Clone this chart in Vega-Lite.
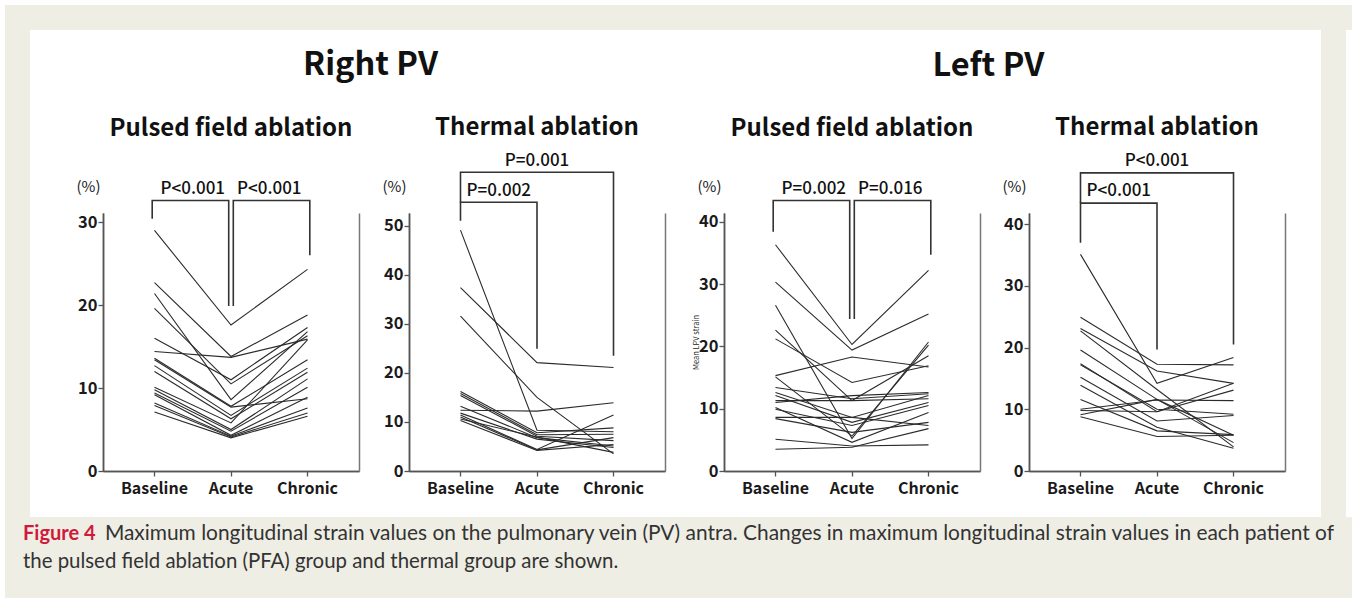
{
 "$schema": "https://vega.github.io/schema/vega-lite/v6.json",
 "background": "white",
 "padding": {"left": 5, "top": 5, "right": 0, "bottom": 0},
 "config": {
  "font": "Noto Sans CJK JP",
  "view": {"stroke": null},
  "axis": {"grid": false, "domainColor": "#555", "domainWidth": 1.5, "tickColor": "#555", "tickWidth": 1.3, "labelColor": "#1a1a1a", "labelFont": "Noto Sans CJK JP", "labelFontWeight": "bold", "labelFontSize": 16.5, "titleFont": "Noto Sans CJK JP", "titleColor": "#1a1a1a"},
  "title": {"font": "Noto Sans CJK JP", "fontWeight": "bold", "color": "#111"},
  "text": {"font": "Noto Sans CJK JP"}
 },
 "datasets": {
  "strain": [
   {"panel":"R-PFA","patient":1,"time":"Baseline","strain":29.0},{"panel":"R-PFA","patient":1,"time":"Acute","strain":17.6},{"panel":"R-PFA","patient":1,"time":"Chronic","strain":24.3},
   {"panel":"R-PFA","patient":2,"time":"Baseline","strain":22.7},{"panel":"R-PFA","patient":2,"time":"Acute","strain":13.8},{"panel":"R-PFA","patient":2,"time":"Chronic","strain":18.8},
   {"panel":"R-PFA","patient":3,"time":"Baseline","strain":14.4},{"panel":"R-PFA","patient":3,"time":"Acute","strain":13.7},{"panel":"R-PFA","patient":3,"time":"Chronic","strain":15.9},
   {"panel":"R-PFA","patient":4,"time":"Baseline","strain":21.4},{"panel":"R-PFA","patient":4,"time":"Acute","strain":8.6},{"panel":"R-PFA","patient":4,"time":"Chronic","strain":16.8},
   {"panel":"R-PFA","patient":5,"time":"Baseline","strain":19.6},{"panel":"R-PFA","patient":5,"time":"Acute","strain":10.5},{"panel":"R-PFA","patient":5,"time":"Chronic","strain":16.3},
   {"panel":"R-PFA","patient":6,"time":"Baseline","strain":16.0},{"panel":"R-PFA","patient":6,"time":"Acute","strain":11.0},{"panel":"R-PFA","patient":6,"time":"Chronic","strain":17.3},
   {"panel":"R-PFA","patient":7,"time":"Baseline","strain":13.6},{"panel":"R-PFA","patient":7,"time":"Acute","strain":7.8},{"panel":"R-PFA","patient":7,"time":"Chronic","strain":13.4},
   {"panel":"R-PFA","patient":8,"time":"Baseline","strain":13.4},{"panel":"R-PFA","patient":8,"time":"Acute","strain":7.7},{"panel":"R-PFA","patient":8,"time":"Chronic","strain":8.7},
   {"panel":"R-PFA","patient":9,"time":"Baseline","strain":12.7},{"panel":"R-PFA","patient":9,"time":"Acute","strain":6.7},{"panel":"R-PFA","patient":9,"time":"Chronic","strain":12.4},
   {"panel":"R-PFA","patient":10,"time":"Baseline","strain":12.0},{"panel":"R-PFA","patient":10,"time":"Acute","strain":6.3},{"panel":"R-PFA","patient":10,"time":"Chronic","strain":11.9},
   {"panel":"R-PFA","patient":11,"time":"Baseline","strain":10.1},{"panel":"R-PFA","patient":11,"time":"Acute","strain":5.8},{"panel":"R-PFA","patient":11,"time":"Chronic","strain":15.8},
   {"panel":"R-PFA","patient":12,"time":"Baseline","strain":9.8},{"panel":"R-PFA","patient":12,"time":"Acute","strain":5.0},{"panel":"R-PFA","patient":12,"time":"Chronic","strain":11.1},
   {"panel":"R-PFA","patient":13,"time":"Baseline","strain":9.4},{"panel":"R-PFA","patient":13,"time":"Acute","strain":4.8},{"panel":"R-PFA","patient":13,"time":"Chronic","strain":10.1},
   {"panel":"R-PFA","patient":14,"time":"Baseline","strain":9.2},{"panel":"R-PFA","patient":14,"time":"Acute","strain":4.3},{"panel":"R-PFA","patient":14,"time":"Chronic","strain":8.9},
   {"panel":"R-PFA","patient":15,"time":"Baseline","strain":8.2},{"panel":"R-PFA","patient":15,"time":"Acute","strain":4.2},{"panel":"R-PFA","patient":15,"time":"Chronic","strain":7.6},
   {"panel":"R-PFA","patient":16,"time":"Baseline","strain":7.9},{"panel":"R-PFA","patient":16,"time":"Acute","strain":4.1},{"panel":"R-PFA","patient":16,"time":"Chronic","strain":7.0},
   {"panel":"R-PFA","patient":17,"time":"Baseline","strain":7.1},{"panel":"R-PFA","patient":17,"time":"Acute","strain":4.0},{"panel":"R-PFA","patient":17,"time":"Chronic","strain":6.6},

   {"panel":"R-TH","patient":1,"time":"Baseline","strain":49.1},{"panel":"R-TH","patient":1,"time":"Acute","strain":8.3},{"panel":"R-TH","patient":1,"time":"Chronic","strain":8.0},
   {"panel":"R-TH","patient":2,"time":"Baseline","strain":37.4},{"panel":"R-TH","patient":2,"time":"Acute","strain":22.1},{"panel":"R-TH","patient":2,"time":"Chronic","strain":21.1},
   {"panel":"R-TH","patient":3,"time":"Baseline","strain":31.6},{"panel":"R-TH","patient":3,"time":"Acute","strain":15.0},{"panel":"R-TH","patient":3,"time":"Chronic","strain":3.5},
   {"panel":"R-TH","patient":4,"time":"Baseline","strain":16.2},{"panel":"R-TH","patient":4,"time":"Acute","strain":7.8},{"panel":"R-TH","patient":4,"time":"Chronic","strain":8.8},
   {"panel":"R-TH","patient":5,"time":"Baseline","strain":15.8},{"panel":"R-TH","patient":5,"time":"Acute","strain":7.4},{"panel":"R-TH","patient":5,"time":"Chronic","strain":7.5},
   {"panel":"R-TH","patient":6,"time":"Baseline","strain":15.4},{"panel":"R-TH","patient":6,"time":"Acute","strain":7.1},{"panel":"R-TH","patient":6,"time":"Chronic","strain":6.2},
   {"panel":"R-TH","patient":7,"time":"Baseline","strain":12.4},{"panel":"R-TH","patient":7,"time":"Acute","strain":12.2},{"panel":"R-TH","patient":7,"time":"Chronic","strain":13.9},
   {"panel":"R-TH","patient":8,"time":"Baseline","strain":13.2},{"panel":"R-TH","patient":8,"time":"Acute","strain":6.8},{"panel":"R-TH","patient":8,"time":"Chronic","strain":5.1},
   {"panel":"R-TH","patient":9,"time":"Baseline","strain":11.8},{"panel":"R-TH","patient":9,"time":"Acute","strain":6.5},{"panel":"R-TH","patient":9,"time":"Chronic","strain":4.8},
   {"panel":"R-TH","patient":10,"time":"Baseline","strain":11.4},{"panel":"R-TH","patient":10,"time":"Acute","strain":4.4},{"panel":"R-TH","patient":10,"time":"Chronic","strain":11.4},
   {"panel":"R-TH","patient":11,"time":"Baseline","strain":11.0},{"panel":"R-TH","patient":11,"time":"Acute","strain":4.3},{"panel":"R-TH","patient":11,"time":"Chronic","strain":6.8},
   {"panel":"R-TH","patient":12,"time":"Baseline","strain":10.6},{"panel":"R-TH","patient":12,"time":"Acute","strain":6.9},{"panel":"R-TH","patient":12,"time":"Chronic","strain":3.8},
   {"panel":"R-TH","patient":13,"time":"Baseline","strain":10.3},{"panel":"R-TH","patient":13,"time":"Acute","strain":4.2},{"panel":"R-TH","patient":13,"time":"Chronic","strain":5.4},

   {"panel":"L-PFA","patient":1,"time":"Baseline","strain":36.3},{"panel":"L-PFA","patient":1,"time":"Acute","strain":20.3},{"panel":"L-PFA","patient":1,"time":"Chronic","strain":32.2},
   {"panel":"L-PFA","patient":2,"time":"Baseline","strain":30.3},{"panel":"L-PFA","patient":2,"time":"Acute","strain":19.4},{"panel":"L-PFA","patient":2,"time":"Chronic","strain":25.2},
   {"panel":"L-PFA","patient":3,"time":"Baseline","strain":26.6},{"panel":"L-PFA","patient":3,"time":"Acute","strain":5.2},{"panel":"L-PFA","patient":3,"time":"Chronic","strain":20.7},
   {"panel":"L-PFA","patient":4,"time":"Baseline","strain":22.6},{"panel":"L-PFA","patient":4,"time":"Acute","strain":11.3},{"panel":"L-PFA","patient":4,"time":"Chronic","strain":18.5},
   {"panel":"L-PFA","patient":5,"time":"Baseline","strain":21.2},{"panel":"L-PFA","patient":5,"time":"Acute","strain":14.2},{"panel":"L-PFA","patient":5,"time":"Chronic","strain":16.9},
   {"panel":"L-PFA","patient":6,"time":"Baseline","strain":15.3},{"panel":"L-PFA","patient":6,"time":"Acute","strain":18.3},{"panel":"L-PFA","patient":6,"time":"Chronic","strain":16.7},
   {"panel":"L-PFA","patient":7,"time":"Baseline","strain":15.1},{"panel":"L-PFA","patient":7,"time":"Acute","strain":5.6},{"panel":"L-PFA","patient":7,"time":"Chronic","strain":20.2},
   {"panel":"L-PFA","patient":8,"time":"Baseline","strain":13.4},{"panel":"L-PFA","patient":8,"time":"Acute","strain":11.6},{"panel":"L-PFA","patient":8,"time":"Chronic","strain":12.4},
   {"panel":"L-PFA","patient":9,"time":"Baseline","strain":12.6},{"panel":"L-PFA","patient":9,"time":"Acute","strain":8.6},{"panel":"L-PFA","patient":9,"time":"Chronic","strain":12.1},
   {"panel":"L-PFA","patient":10,"time":"Baseline","strain":12.1},{"panel":"L-PFA","patient":10,"time":"Acute","strain":7.8},{"panel":"L-PFA","patient":10,"time":"Chronic","strain":11.0},
   {"panel":"L-PFA","patient":11,"time":"Baseline","strain":11.3},{"panel":"L-PFA","patient":11,"time":"Acute","strain":11.3},{"panel":"L-PFA","patient":11,"time":"Chronic","strain":11.6},
   {"panel":"L-PFA","patient":12,"time":"Baseline","strain":11.0},{"panel":"L-PFA","patient":12,"time":"Acute","strain":12.1},{"panel":"L-PFA","patient":12,"time":"Chronic","strain":12.6},
   {"panel":"L-PFA","patient":13,"time":"Baseline","strain":10.2},{"panel":"L-PFA","patient":13,"time":"Acute","strain":4.6},{"panel":"L-PFA","patient":13,"time":"Chronic","strain":9.4},
   {"panel":"L-PFA","patient":14,"time":"Baseline","strain":9.9},{"panel":"L-PFA","patient":14,"time":"Acute","strain":7.3},{"panel":"L-PFA","patient":14,"time":"Chronic","strain":10.5},
   {"panel":"L-PFA","patient":15,"time":"Baseline","strain":8.6},{"panel":"L-PFA","patient":15,"time":"Acute","strain":8.6},{"panel":"L-PFA","patient":15,"time":"Chronic","strain":7.3},
   {"panel":"L-PFA","patient":16,"time":"Baseline","strain":8.4},{"panel":"L-PFA","patient":16,"time":"Acute","strain":6.2},{"panel":"L-PFA","patient":16,"time":"Chronic","strain":7.8},
   {"panel":"L-PFA","patient":17,"time":"Baseline","strain":5.1},{"panel":"L-PFA","patient":17,"time":"Acute","strain":4.0},{"panel":"L-PFA","patient":17,"time":"Chronic","strain":4.2},
   {"panel":"L-PFA","patient":18,"time":"Baseline","strain":3.5},{"panel":"L-PFA","patient":18,"time":"Acute","strain":3.8},{"panel":"L-PFA","patient":18,"time":"Chronic","strain":6.8},

   {"panel":"L-TH","patient":1,"time":"Baseline","strain":35.1},{"panel":"L-TH","patient":1,"time":"Acute","strain":14.2},{"panel":"L-TH","patient":1,"time":"Chronic","strain":18.4},
   {"panel":"L-TH","patient":2,"time":"Baseline","strain":24.9},{"panel":"L-TH","patient":2,"time":"Acute","strain":17.3},{"panel":"L-TH","patient":2,"time":"Chronic","strain":17.2},
   {"panel":"L-TH","patient":3,"time":"Baseline","strain":23.1},{"panel":"L-TH","patient":3,"time":"Acute","strain":16.2},{"panel":"L-TH","patient":3,"time":"Chronic","strain":14.2},
   {"panel":"L-TH","patient":4,"time":"Baseline","strain":22.7},{"panel":"L-TH","patient":4,"time":"Acute","strain":13.2},{"panel":"L-TH","patient":4,"time":"Chronic","strain":3.9},
   {"panel":"L-TH","patient":5,"time":"Baseline","strain":19.6},{"panel":"L-TH","patient":5,"time":"Acute","strain":11.6},{"panel":"L-TH","patient":5,"time":"Chronic","strain":4.6},
   {"panel":"L-TH","patient":6,"time":"Baseline","strain":17.4},{"panel":"L-TH","patient":6,"time":"Acute","strain":9.6},{"panel":"L-TH","patient":6,"time":"Chronic","strain":13.1},
   {"panel":"L-TH","patient":7,"time":"Baseline","strain":17.2},{"panel":"L-TH","patient":7,"time":"Acute","strain":10.0},{"panel":"L-TH","patient":7,"time":"Chronic","strain":9.2},
   {"panel":"L-TH","patient":8,"time":"Baseline","strain":15.2},{"panel":"L-TH","patient":8,"time":"Acute","strain":8.1},{"panel":"L-TH","patient":8,"time":"Chronic","strain":9.0},
   {"panel":"L-TH","patient":9,"time":"Baseline","strain":13.9},{"panel":"L-TH","patient":9,"time":"Acute","strain":7.1},{"panel":"L-TH","patient":9,"time":"Chronic","strain":3.7},
   {"panel":"L-TH","patient":10,"time":"Baseline","strain":11.6},{"panel":"L-TH","patient":10,"time":"Acute","strain":6.5},{"panel":"L-TH","patient":10,"time":"Chronic","strain":5.9},
   {"panel":"L-TH","patient":11,"time":"Baseline","strain":10.0},{"panel":"L-TH","patient":11,"time":"Acute","strain":11.5},{"panel":"L-TH","patient":11,"time":"Chronic","strain":11.4},
   {"panel":"L-TH","patient":12,"time":"Baseline","strain":9.8},{"panel":"L-TH","patient":12,"time":"Acute","strain":9.6},{"panel":"L-TH","patient":12,"time":"Chronic","strain":14.2},
   {"panel":"L-TH","patient":13,"time":"Baseline","strain":9.1},{"panel":"L-TH","patient":13,"time":"Acute","strain":11.6},{"panel":"L-TH","patient":13,"time":"Chronic","strain":5.8},
   {"panel":"L-TH","patient":14,"time":"Baseline","strain":8.8},{"panel":"L-TH","patient":14,"time":"Acute","strain":5.6},{"panel":"L-TH","patient":14,"time":"Chronic","strain":5.8}
  ],
  "brackets": [
   {"panel":"R-PFA","bracket":"A","time":"Baseline","level":30.4},{"panel":"R-PFA","bracket":"A","time":"Baseline","level":32.6},{"panel":"R-PFA","bracket":"A","time":"Acute","level":32.6},{"panel":"R-PFA","bracket":"A","time":"Acute","level":19.9},
   {"panel":"R-PFA","bracket":"B","time":"Acute","level":19.9},{"panel":"R-PFA","bracket":"B","time":"Acute","level":32.6},{"panel":"R-PFA","bracket":"B","time":"Chronic","level":32.6},{"panel":"R-PFA","bracket":"B","time":"Chronic","level":26.0},
   {"panel":"R-TH","bracket":"A","time":"Baseline","level":51.0},{"panel":"R-TH","bracket":"A","time":"Baseline","level":54.8},{"panel":"R-TH","bracket":"A","time":"Acute","level":54.8},{"panel":"R-TH","bracket":"A","time":"Acute","level":24.9},
   {"panel":"R-TH","bracket":"C","time":"Baseline","level":54.8},{"panel":"R-TH","bracket":"C","time":"Baseline","level":60.9},{"panel":"R-TH","bracket":"C","time":"Chronic","level":60.9},{"panel":"R-TH","bracket":"C","time":"Chronic","level":23.5},
   {"panel":"L-PFA","bracket":"A","time":"Baseline","level":38.4},{"panel":"L-PFA","bracket":"A","time":"Baseline","level":43.4},{"panel":"L-PFA","bracket":"A","time":"Acute","level":43.4},{"panel":"L-PFA","bracket":"A","time":"Acute","level":24.4},
   {"panel":"L-PFA","bracket":"B","time":"Acute","level":24.4},{"panel":"L-PFA","bracket":"B","time":"Acute","level":43.4},{"panel":"L-PFA","bracket":"B","time":"Chronic","level":43.4},{"panel":"L-PFA","bracket":"B","time":"Chronic","level":34.7},
   {"panel":"L-TH","bracket":"A","time":"Baseline","level":37.0},{"panel":"L-TH","bracket":"A","time":"Baseline","level":43.4},{"panel":"L-TH","bracket":"A","time":"Acute","level":43.4},{"panel":"L-TH","bracket":"A","time":"Acute","level":19.7},
   {"panel":"L-TH","bracket":"C","time":"Baseline","level":43.4},{"panel":"L-TH","bracket":"C","time":"Baseline","level":48.3},{"panel":"L-TH","bracket":"C","time":"Chronic","level":48.3},{"panel":"L-TH","bracket":"C","time":"Chronic","level":20.5}
  ],
  "pvalues": [
   {"panel":"R-PFA","label":"P<0.001","left":"Baseline","right":"Acute","level":33.4},
   {"panel":"R-PFA","label":"P<0.001","left":"Acute","right":"Chronic","level":33.4},
   {"panel":"R-TH","label":"P=0.002","left":"Baseline","right":"Acute","level":56.1},
   {"panel":"R-TH","label":"P=0.001","left":"Baseline","right":"Chronic","level":62.2},
   {"panel":"L-PFA","label":"P=0.002","left":"Baseline","right":"Acute","level":44.5},
   {"panel":"L-PFA","label":"P=0.016","left":"Acute","right":"Chronic","level":44.5},
   {"panel":"L-TH","label":"P<0.001","left":"Baseline","right":"Acute","level":44.5},
   {"panel":"L-TH","label":"P<0.001","left":"Baseline","right":"Chronic","level":49.4}
  ],
  "caption": [
   {"part":"label","line":"1","text":"Figure 4"},
   {"part":"body1","line":"1","text":"Maximum longitudinal strain values on the pulmonary vein (PV) antra. Changes in maximum longitudinal strain values in each patient of"},
   {"part":"body2","line":"2","text":"the pulsed field ablation (PFA) group and thermal group are shown."}
  ]
 },
 "spacing": 0,
 "vconcat": [
  {"width": 1347, "height": 25, "view": {"fill": "#efeee4", "stroke": null}, "data": {"values": []}, "mark": "point"},
  {
   "spacing": 0,
   "hconcat": [
    {"width": 25, "height": 487, "view": {"fill": "#efeee4", "stroke": null}, "data": {"values": []}, "mark": "point"},
    {"width": 46, "height": 10, "data": {"values": []}, "mark": "point"},
    {
     "spacing": 0,
     "vconcat": [
      {"width": 1, "height": 19, "data": {"values": []}, "mark": "point"},
      {
       "spacing": 27,
       "hconcat": [
        {
         "title": {"text": "Right PV", "fontSize": 32.5, "anchor": "middle", "offset": 34},
         "spacing": 23,
         "hconcat": [
          {
           "width": 256, "height": 258,
           "title": {"text": "Pulsed field ablation", "fontSize": 24, "offset": 38, "frame": "group", "anchor": "middle"},
           "layer": [
            {"data": {"name": "strain"}, "transform": [{"filter": "datum.panel == 'R-PFA'"}],
             "mark": {"type": "line", "color": "#2b2b2b", "strokeWidth": 1.1},
             "encoding": {
              "x": {"field": "time", "type": "ordinal", "scale": {"type": "band", "domain": ["Baseline", "Acute", "Chronic"], "paddingInner": 0, "paddingOuter": 0.173}, "axis": {"orient": "bottom", "domain": true, "domainColor": "#555", "ticks": true, "labels": true, "title": null, "labelAngle": 0, "labelPadding": 4, "tickSize": 5, "labelFontSize": 16}},
              "y": {"field": "strain", "type": "quantitative", "scale": {"domain": [0, 31.1], "nice": false}, "axis": {"orient": "left", "domain": true, "domainColor": "#555", "values": [0, 10, 20, 30], "title": "(%)", "titleAngle": 0, "titleAlign": "right", "titleBaseline": "middle", "titleX": -3, "titleY": -27, "titleFontSize": 15, "titleFontWeight": "normal", "tickSize": 5, "labelPadding": 1}},
              "detail": {"field": "patient", "type": "nominal"},
              "order": {"value": null}}},
            {"data": {"name": "brackets"}, "transform": [{"filter": "datum.panel == 'R-PFA' && datum.bracket == 'A'"}],
             "mark": {"type": "line", "color": "#333", "strokeWidth": 1.6, "clip": false},
             "encoding": {
              "x": {"field": "time", "type": "ordinal", "scale": {"type": "band", "domain": ["Baseline", "Acute", "Chronic"], "paddingInner": 0, "paddingOuter": 0.173}, "bandPosition": 0.47, "axis": {"orient": "bottom", "ticks": false, "labels": false, "title": null, "domainColor": "#555"}},
              "y": {"field": "level", "type": "quantitative", "scale": {"domain": [0, 31.1], "nice": false}, "axis": {"orient": "right", "ticks": false, "labels": false, "title": null, "domainColor": "#777"}},
              "detail": {"field": "bracket", "type": "nominal"},
              "order": {"value": null}}},
            {"data": {"name": "brackets"}, "transform": [{"filter": "datum.panel == 'R-PFA' && datum.bracket == 'B'"}],
             "mark": {"type": "line", "color": "#333", "strokeWidth": 1.6, "clip": false},
             "encoding": {
              "x": {"field": "time", "type": "ordinal", "scale": {"type": "band", "domain": ["Baseline", "Acute", "Chronic"], "paddingInner": 0, "paddingOuter": 0.173}, "bandPosition": 0.53, "axis": null},
              "y": {"field": "level", "type": "quantitative", "scale": {"domain": [0, 31.1], "nice": false}, "axis": null},
              "detail": {"field": "bracket", "type": "nominal"},
              "order": {"value": null}}},
            {"data": {"name": "pvalues"}, "transform": [{"filter": "datum.panel == 'R-PFA'"}],
             "mark": {"type": "text", "fontSize": 17, "fontWeight": 500, "baseline": "alphabetic", "color": "#111", "clip": false},
             "encoding": {
              "x": {"field": "left", "type": "ordinal", "scale": {"type": "band", "domain": ["Baseline", "Acute", "Chronic"], "paddingInner": 0, "paddingOuter": 0.173}, "bandPosition": 1, "axis": null},
              "y": {"field": "level", "type": "quantitative", "scale": {"domain": [0, 31.1], "nice": false}, "axis": {"orient": "left", "ticks": false, "labels": false, "title": null, "domainColor": "#555"}},
              "text": {"field": "label", "type": "nominal"}}}
           ],
           "resolve": {"axis": {"x": "independent", "y": "independent"}}
          },
          {
           "width": 256, "height": 258,
           "title": {"text": "Thermal ablation", "fontSize": 24, "offset": 12, "frame": "group", "anchor": "middle"},
           "layer": [
            {"data": {"name": "strain"}, "transform": [{"filter": "datum.panel == 'R-TH'"}],
             "mark": {"type": "line", "color": "#2b2b2b", "strokeWidth": 1.1},
             "encoding": {
              "x": {"field": "time", "type": "ordinal", "scale": {"type": "band", "domain": ["Baseline", "Acute", "Chronic"], "paddingInner": 0, "paddingOuter": 0.173}, "axis": {"orient": "bottom", "domain": true, "domainColor": "#555", "ticks": true, "labels": true, "title": null, "labelAngle": 0, "labelPadding": 4, "tickSize": 5, "labelFontSize": 16}},
              "y": {"field": "strain", "type": "quantitative", "scale": {"domain": [0, 52.6], "nice": false}, "axis": {"orient": "left", "domain": true, "domainColor": "#555", "values": [0, 10, 20, 30, 40, 50], "title": "(%)", "titleAngle": 0, "titleAlign": "right", "titleBaseline": "middle", "titleX": -3, "titleY": -27, "titleFontSize": 15, "titleFontWeight": "normal", "tickSize": 5, "labelPadding": 1}},
              "detail": {"field": "patient", "type": "nominal"},
              "order": {"value": null}}},
            {"data": {"name": "brackets"}, "transform": [{"filter": "datum.panel == 'R-TH'"}],
             "mark": {"type": "line", "color": "#333", "strokeWidth": 1.6, "clip": false},
             "encoding": {
              "x": {"field": "time", "type": "ordinal", "scale": {"type": "band", "domain": ["Baseline", "Acute", "Chronic"], "paddingInner": 0, "paddingOuter": 0.173}, "axis": {"orient": "bottom", "ticks": false, "labels": false, "title": null, "domainColor": "#555"}},
              "y": {"field": "level", "type": "quantitative", "scale": {"domain": [0, 52.6], "nice": false}, "axis": {"orient": "right", "ticks": false, "labels": false, "title": null, "domainColor": "#777"}},
              "detail": {"field": "bracket", "type": "nominal"},
              "order": {"value": null}}},
            {"data": {"name": "pvalues"}, "transform": [{"filter": "datum.panel == 'R-TH' && datum.right == 'Acute'"}],
             "mark": {"type": "text", "fontSize": 17, "fontWeight": 500, "baseline": "alphabetic", "color": "#111", "clip": false},
             "encoding": {
              "x": {"field": "left", "type": "ordinal", "scale": {"type": "band", "domain": ["Baseline", "Acute", "Chronic"], "paddingInner": 0, "paddingOuter": 0.173}, "bandPosition": 1, "axis": null},
              "y": {"field": "level", "type": "quantitative", "scale": {"domain": [0, 52.6], "nice": false}, "axis": {"orient": "left", "ticks": false, "labels": false, "title": null, "domainColor": "#555"}},
              "text": {"field": "label", "type": "nominal"}}},
            {"data": {"name": "pvalues"}, "transform": [{"filter": "datum.panel == 'R-TH' && datum.right == 'Chronic'"}],
             "mark": {"type": "text", "fontSize": 17, "fontWeight": 500, "baseline": "alphabetic", "color": "#111", "clip": false},
             "encoding": {
              "x": {"datum": "Acute", "type": "ordinal", "scale": {"type": "band", "domain": ["Baseline", "Acute", "Chronic"], "paddingInner": 0, "paddingOuter": 0.173}, "axis": null},
              "y": {"field": "level", "type": "quantitative", "scale": {"domain": [0, 52.6], "nice": false}, "axis": null},
              "text": {"field": "label", "type": "nominal"}}}
           ],
           "resolve": {"axis": {"x": "independent", "y": "independent"}}
          }
         ]
        },
        {
         "title": {"text": "Left PV", "fontSize": 32.5, "anchor": "middle", "offset": 34},
         "spacing": 22,
         "hconcat": [
          {
           "width": 256, "height": 258,
           "title": {"text": "Pulsed field ablation", "fontSize": 24, "offset": 38, "frame": "group", "anchor": "middle"},
           "layer": [
            {"data": {"name": "strain"}, "transform": [{"filter": "datum.panel == 'L-PFA'"}],
             "mark": {"type": "line", "color": "#2b2b2b", "strokeWidth": 1.1},
             "encoding": {
              "x": {"field": "time", "type": "ordinal", "scale": {"type": "band", "domain": ["Baseline", "Acute", "Chronic"], "paddingInner": 0, "paddingOuter": 0.173}, "axis": {"orient": "bottom", "domain": true, "domainColor": "#555", "ticks": true, "labels": true, "title": null, "labelAngle": 0, "labelPadding": 4, "tickSize": 5, "labelFontSize": 16}},
              "y": {"field": "strain", "type": "quantitative", "scale": {"domain": [0, 41.4], "nice": false}, "axis": {"orient": "left", "domain": true, "domainColor": "#555", "values": [0, 10, 20, 30, 40], "title": "(%)", "titleAngle": 0, "titleAlign": "right", "titleBaseline": "middle", "titleX": -3, "titleY": -27, "titleFontSize": 15, "titleFontWeight": "normal", "tickSize": 5, "labelPadding": 1}},
              "detail": {"field": "patient", "type": "nominal"},
              "order": {"value": null}}},
            {"data": {"name": "brackets"}, "transform": [{"filter": "datum.panel == 'L-PFA' && datum.bracket == 'A'"}],
             "mark": {"type": "line", "color": "#333", "strokeWidth": 1.6, "clip": false},
             "encoding": {
              "x": {"field": "time", "type": "ordinal", "scale": {"type": "band", "domain": ["Baseline", "Acute", "Chronic"], "paddingInner": 0, "paddingOuter": 0.173}, "bandPosition": 0.47, "axis": {"orient": "bottom", "ticks": false, "labels": false, "title": null, "domainColor": "#555"}},
              "y": {"field": "level", "type": "quantitative", "scale": {"domain": [0, 41.4], "nice": false}, "axis": {"orient": "right", "ticks": false, "labels": false, "title": null, "domainColor": "#777"}},
              "detail": {"field": "bracket", "type": "nominal"},
              "order": {"value": null}}},
            {"data": {"name": "brackets"}, "transform": [{"filter": "datum.panel == 'L-PFA' && datum.bracket == 'B'"}],
             "mark": {"type": "line", "color": "#333", "strokeWidth": 1.6, "clip": false},
             "encoding": {
              "x": {"field": "time", "type": "ordinal", "scale": {"type": "band", "domain": ["Baseline", "Acute", "Chronic"], "paddingInner": 0, "paddingOuter": 0.173}, "bandPosition": 0.53, "axis": null},
              "y": {"field": "level", "type": "quantitative", "scale": {"domain": [0, 41.4], "nice": false}, "axis": null},
              "detail": {"field": "bracket", "type": "nominal"},
              "order": {"value": null}}},
            {"data": {"name": "pvalues"}, "transform": [{"filter": "datum.panel == 'L-PFA'"}],
             "mark": {"type": "text", "fontSize": 17, "fontWeight": 500, "baseline": "alphabetic", "color": "#111", "clip": false},
             "encoding": {
              "x": {"field": "left", "type": "ordinal", "scale": {"type": "band", "domain": ["Baseline", "Acute", "Chronic"], "paddingInner": 0, "paddingOuter": 0.173}, "bandPosition": 1, "axis": null},
              "y": {"field": "level", "type": "quantitative", "scale": {"domain": [0, 41.4], "nice": false}, "axis": {"orient": "left", "domain": true, "domainColor": "#555", "ticks": false, "labels": false, "title": "Mean LPV strain", "titleFontSize": 7.5, "titleFontWeight": "normal", "titlePadding": 24}},
              "text": {"field": "label", "type": "nominal"}}}
           ],
           "resolve": {"axis": {"x": "independent", "y": "independent"}}
          },
          {
           "width": 256, "height": 258,
           "title": {"text": "Thermal ablation", "fontSize": 24, "offset": 12, "frame": "group", "anchor": "middle"},
           "layer": [
            {"data": {"name": "strain"}, "transform": [{"filter": "datum.panel == 'L-TH'"}],
             "mark": {"type": "line", "color": "#2b2b2b", "strokeWidth": 1.1},
             "encoding": {
              "x": {"field": "time", "type": "ordinal", "scale": {"type": "band", "domain": ["Baseline", "Acute", "Chronic"], "paddingInner": 0, "paddingOuter": 0.173}, "axis": {"orient": "bottom", "domain": true, "domainColor": "#555", "ticks": true, "labels": true, "title": null, "labelAngle": 0, "labelPadding": 4, "tickSize": 5, "labelFontSize": 16}},
              "y": {"field": "strain", "type": "quantitative", "scale": {"domain": [0, 41.8], "nice": false}, "axis": {"orient": "left", "domain": true, "domainColor": "#555", "values": [0, 10, 20, 30, 40], "title": "(%)", "titleAngle": 0, "titleAlign": "right", "titleBaseline": "middle", "titleX": -3, "titleY": -27, "titleFontSize": 15, "titleFontWeight": "normal", "tickSize": 5, "labelPadding": 1}},
              "detail": {"field": "patient", "type": "nominal"},
              "order": {"value": null}}},
            {"data": {"name": "brackets"}, "transform": [{"filter": "datum.panel == 'L-TH'"}],
             "mark": {"type": "line", "color": "#333", "strokeWidth": 1.6, "clip": false},
             "encoding": {
              "x": {"field": "time", "type": "ordinal", "scale": {"type": "band", "domain": ["Baseline", "Acute", "Chronic"], "paddingInner": 0, "paddingOuter": 0.173}, "axis": {"orient": "bottom", "ticks": false, "labels": false, "title": null, "domainColor": "#555"}},
              "y": {"field": "level", "type": "quantitative", "scale": {"domain": [0, 41.8], "nice": false}, "axis": {"orient": "right", "ticks": false, "labels": false, "title": null, "domainColor": "#777"}},
              "detail": {"field": "bracket", "type": "nominal"},
              "order": {"value": null}}},
            {"data": {"name": "pvalues"}, "transform": [{"filter": "datum.panel == 'L-TH' && datum.right == 'Acute'"}],
             "mark": {"type": "text", "fontSize": 17, "fontWeight": 500, "baseline": "alphabetic", "color": "#111", "clip": false},
             "encoding": {
              "x": {"field": "left", "type": "ordinal", "scale": {"type": "band", "domain": ["Baseline", "Acute", "Chronic"], "paddingInner": 0, "paddingOuter": 0.173}, "bandPosition": 1, "axis": null},
              "y": {"field": "level", "type": "quantitative", "scale": {"domain": [0, 41.8], "nice": false}, "axis": {"orient": "left", "ticks": false, "labels": false, "title": null, "domainColor": "#555"}},
              "text": {"field": "label", "type": "nominal"}}},
            {"data": {"name": "pvalues"}, "transform": [{"filter": "datum.panel == 'L-TH' && datum.right == 'Chronic'"}],
             "mark": {"type": "text", "fontSize": 17, "fontWeight": 500, "baseline": "alphabetic", "color": "#111", "clip": false},
             "encoding": {
              "x": {"datum": "Acute", "type": "ordinal", "scale": {"type": "band", "domain": ["Baseline", "Acute", "Chronic"], "paddingInner": 0, "paddingOuter": 0.173}, "axis": null},
              "y": {"field": "level", "type": "quantitative", "scale": {"domain": [0, 41.8], "nice": false}, "axis": null},
              "text": {"field": "label", "type": "nominal"}}}
           ],
           "resolve": {"axis": {"x": "independent", "y": "independent"}}
          }
         ]
        }
       ]
      }
     ]
    },
    {"width": 36, "height": 10, "data": {"values": []}, "mark": "point"},
    {"width": 25, "height": 487, "view": {"fill": "#efeee4", "stroke": null}, "data": {"values": []}, "mark": "point"}
   ]
  },
  {
   "width": 1347, "height": 81,
   "view": {"fill": "#efeee4", "stroke": null},
   "data": {"name": "caption"},
   "layer": [
    {"transform": [{"filter": "datum.part == 'label'"}],
     "mark": {"type": "text", "font": "Lato", "fontSize": 20, "fontWeight": "bold", "color": "#cf1a3c", "align": "left", "baseline": "alphabetic"},
     "encoding": {
      "x": {"datum": 0, "type": "quantitative", "scale": {"domain": [0, 1], "nice": false, "zero": false, "padding": 18}, "axis": null},
      "y": {"field": "line", "type": "ordinal", "scale": {"type": "point", "domain": ["1", "2"], "padding": 0.946, "align": 0.434}, "axis": null},
      "text": {"field": "text", "type": "nominal"}}},
    {"transform": [{"filter": "datum.part == 'body1'"}],
     "mark": {"type": "text", "font": "Lato", "fontSize": 20.9, "color": "#333", "align": "right", "baseline": "alphabetic"},
     "encoding": {
      "x": {"datum": 1, "type": "quantitative", "scale": {"domain": [0, 1], "nice": false, "zero": false, "padding": 18}, "axis": null},
      "y": {"field": "line", "type": "ordinal", "scale": {"type": "point", "domain": ["1", "2"], "padding": 0.946, "align": 0.434}, "axis": null},
      "text": {"field": "text", "type": "nominal"}}},
    {"transform": [{"filter": "datum.part == 'body2'"}],
     "mark": {"type": "text", "font": "Lato", "fontSize": 20.4, "color": "#333", "align": "left", "baseline": "alphabetic"},
     "encoding": {
      "x": {"datum": 0, "type": "quantitative", "scale": {"domain": [0, 1], "nice": false, "zero": false, "padding": 18}, "axis": null},
      "y": {"field": "line", "type": "ordinal", "scale": {"type": "point", "domain": ["1", "2"], "padding": 0.946, "align": 0.434}, "axis": null},
      "text": {"field": "text", "type": "nominal"}}}
   ]
  }
 ]
}
